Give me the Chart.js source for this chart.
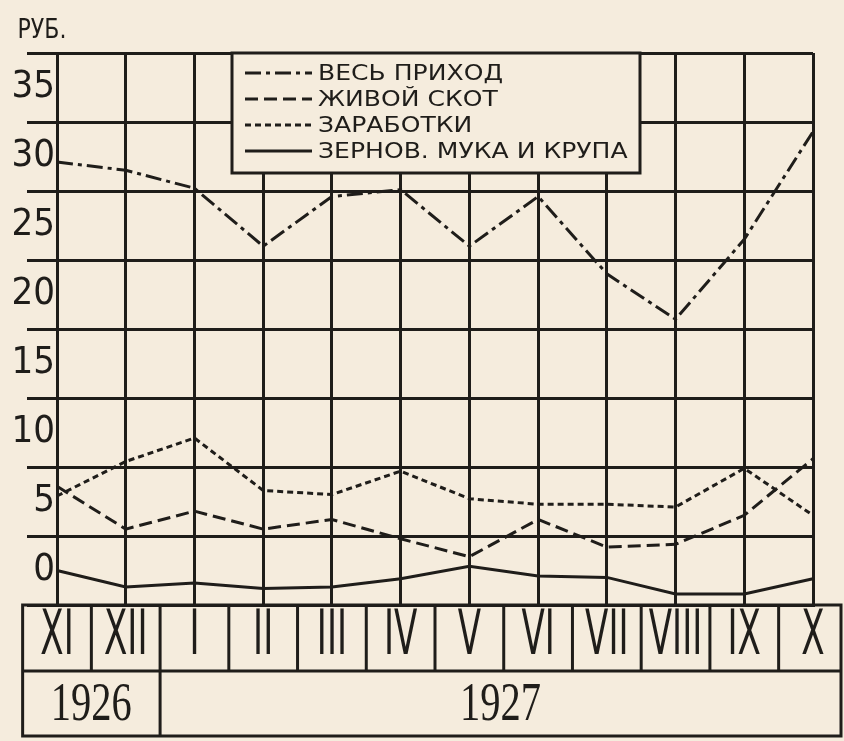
<!DOCTYPE html>
<html lang="ru">
<head>
<meta charset="utf-8">
<title>Приход по месяцам, 1926–1927</title>
<script src="https://cdn.jsdelivr.net/npm/chart.js@4.4.1/dist/chart.umd.min.js"></script>
<style>
  html, body { margin: 0; padding: 0; background: #f5ecdd; }
  #wrap { position: relative; width: 844px; height: 741px; }
</style>
</head>
<body>
<div id="wrap"><canvas id="grafik"></canvas></div>
<script>
// месяцы и годы
const mesyatsy = ['XI', 'XII', 'I', 'II', 'III', 'IV', 'V', 'VI', 'VII', 'VIII', 'IX', 'X'];
const gody = ['1926', '1927'];
const mesyatsevVGodu = [2, 10];

// руб. на хозяйство
const vesPrikhod = [29.6, 29.0, 27.7, 23.5, 27.1, 27.6, 23.5, 27.1, 21.5, 18.2, 24.0, 31.8];
const zhivoiSkot = [6.1, 3.0, 4.3, 3.0, 3.7, 2.3, 1.0, 3.7, 1.7, 1.9, 4.0, 8.1];
const zarabotki = [5.4, 7.9, 9.6, 5.8, 5.5, 7.2, 5.2, 4.8, 4.8, 4.6, 7.4, 4.0];
const zernovye = [0.0, -1.2, -0.9, -1.3, -1.2, -0.6, 0.3, -0.4, -0.5, -1.7, -1.7, -0.6];

const nazvaniya = ['ВЕСЬ ПРИХОД', 'ЖИВОЙ СКОТ', 'ЗАРАБОТКИ', 'ЗЕРНОВ. МУКА И КРУПА'];
const podpisiY = [0, 5, 10, 15, 20, 25, 30, 35];
const setkaY = [-2.5, 2.5, 7.5, 12.5, 17.5, 22.5, 27.5, 32.5, 37.5];

const chernila = '#1f1d1a';
const fon = '#f5ecdd';

function pishi(ctx, tekst, x, y, shrift, szhatie, vyravn) {
    ctx.save();
    ctx.translate(x, y);
    ctx.scale(szhatie, 1);
    ctx.font = shrift;
    ctx.textAlign = vyravn || 'center';
    ctx.textBaseline = 'middle';
    ctx.fillStyle = chernila;
    ctx.fillText(tekst, 0, 0);
    ctx.restore();
}

function liniya(ctx, x1, y1, x2, y2) {
    ctx.beginPath();
    ctx.moveTo(x1, y1);
    ctx.lineTo(x2, y2);
    ctx.stroke();
}

// легенда, подпись "РУБ." и таблица месяцев внизу
const tablitsa = {
    id: 'tablitsa',
    afterDraw(chart) {
        const ctx = chart.ctx;
        const sx = chart.scales.x;
        const area = chart.chartArea;

        ctx.save();
        ctx.strokeStyle = chernila;
        ctx.lineWidth = 3;

        // легенда
        const lx = 232, ly = area.top, lw = 408, lh = 120;
        ctx.fillStyle = fon;
        ctx.fillRect(lx, ly, lw, lh);
        ctx.strokeRect(lx, ly, lw, lh);
        chart.data.datasets.forEach((ds, i) => {
            const y = ly + 20 + i * 26;
            ctx.setLineDash(ds.borderDash || []);
            liniya(ctx, lx + 13, y, lx + 80, y);
            ctx.setLineDash([]);
            pishi(ctx, ds.label, lx + 86, y + 1, '22px "DejaVu Sans"', 1.14, 'left');
        });

        pishi(ctx, 'РУБ.', 42, 31, '26px "DejaVu Sans"', 0.85);

        // таблица
        const shag = sx.getPixelForTick(1) - sx.getPixelForTick(0);
        const levo = sx.getPixelForTick(0) - shag / 2;
        const pravo = Math.min(sx.getPixelForTick(mesyatsy.length - 1) + shag / 2, chart.width - 3);
        const verh = area.bottom;
        const seredina = verh + 66;
        const niz = seredina + 65;

        ctx.strokeRect(levo, verh, pravo - levo, niz - verh);
        liniya(ctx, levo, seredina, pravo, seredina);

        mesyatsy.forEach((m, i) => {
            const c = sx.getPixelForTick(i);
            if (i > 0) liniya(ctx, c - shag / 2, verh, c - shag / 2, seredina);
            pishi(ctx, m, c, (verh + seredina) / 2, '62px "DejaVu Sans"', 0.55);
        });

        let nachalo = 0;
        gody.forEach((g, i) => {
            const konets = nachalo + mesyatsevVGodu[i] - 1;
            const a = nachalo === 0 ? levo : sx.getPixelForTick(nachalo) - shag / 2;
            const b = konets === mesyatsy.length - 1 ? pravo : sx.getPixelForTick(konets) + shag / 2;
            if (nachalo > 0) liniya(ctx, a, seredina, a, niz);
            pishi(ctx, g, (a + b) / 2, (seredina + niz) / 2 + 2, '54px "Liberation Serif"', 0.75);
            nachalo = konets + 1;
        });

        ctx.restore();
    }
};

const ctx = document.getElementById('grafik').getContext('2d');
const grafik = new Chart(ctx, {
    type: 'line',
    data: {
        labels: mesyatsy,
        datasets: [
            { label: nazvaniya[0], data: vesPrikhod, borderDash: [16, 5, 4, 5] },
            { label: nazvaniya[1], data: zhivoiSkot, borderDash: [13, 6] },
            { label: nazvaniya[2], data: zarabotki, borderDash: [6, 4] },
            { label: nazvaniya[3], data: zernovye }
        ].map(ds => Object.assign(ds, {
            borderColor: chernila,
            borderWidth: 3,
            pointRadius: 0,
            tension: 0,
            fill: false
        }))
    },
    options: {
        responsive: true,
        maintainAspectRatio: false,
        animation: false,
        layout: { padding: { top: 53, right: 31, left: 0, bottom: 0 } },
        plugins: {
            legend: { display: false },
            tooltip: { enabled: false }
        },
        scales: {
            x: {
                offset: false,
                grid: { color: chernila, lineWidth: 3, drawTicks: false },
                border: { color: chernila, width: 3 },
                ticks: { display: false },
                afterFit: s => { s.height = 136; s.paddingLeft = 0; s.paddingRight = 0; }
            },
            y: {
                min: -2.5,
                max: 37.5,
                afterBuildTicks: s => {
                    s.ticks = setkaY.concat(podpisiY).sort((a, b) => a - b).map(v => ({ value: v }));
                },
                grid: {
                    color: c => (c.tick && setkaY.includes(c.tick.value)) ? chernila : 'rgba(0,0,0,0)',
                    lineWidth: 3,
                    tickLength: 30
                },
                border: { color: chernila, width: 3 },
                ticks: {
                    autoSkip: false,
                    padding: -28,
                    color: chernila,
                    font: { family: "'Liberation Sans Narrow', 'DejaVu Sans Condensed', 'Liberation Sans'", size: 38 },
                    callback: v => podpisiY.includes(v) ? String(v) : ''
                },
                afterFit: s => { s.width = 57; s.paddingTop = 0; s.paddingBottom = 0; }
            }
        }
    },
    plugins: [tablitsa]
});
</script>
</body>
</html>
